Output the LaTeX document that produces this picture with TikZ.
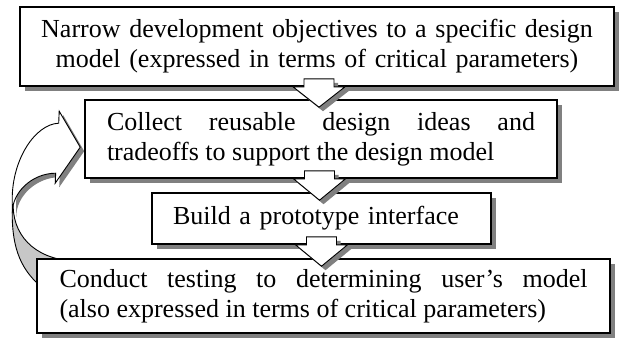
\documentclass[tikz,border=0pt]{standalone}
\usepackage{fontspec}
\setmainfont{Liberation Serif}
\usetikzlibrary{positioning,calc,shadows,backgrounds}
\definecolor{shade}{gray}{0.5}
\definecolor{backface}{gray}{0.78}

\begin{document}
\begin{tikzpicture}[x=1pt,y=-1pt,
    box/.style={draw, line width=1.6pt, fill=white, inner xsep=0pt, inner ysep=4pt,
      font=\fontsize{26}{30}\selectfont,
      drop shadow={shadow xshift=5pt, shadow yshift=-5pt, fill=shade, opacity=1}},
    blockarrow/.style={draw, line width=0.9pt, fill=white, line join=miter,
      drop shadow={shadow xshift=4pt, shadow yshift=-4pt, fill=shade, opacity=1}},
    curvedarrow/.style={draw, line width=0.9pt, fill=white, line join=miter,
      drop shadow={shadow xshift=4pt, shadow yshift=-4pt, fill=shade, opacity=1}},
    backside/.style={draw, line width=0.9pt, fill=backface}]
  \useasboundingbox (0,0) rectangle (620,337);

  \node (narrow) [box, text width=588pt, minimum width=594pt, minimum height=79pt,
    align=center] at (317,46.5)
    {Narrow development objectives to a specific design\\
     model (expressed in terms of critical parameters)};
  \node (collect) [box, text width=428pt, minimum width=472pt, minimum height=78pt,
    align=justify, below=12.4pt of narrow, xshift=4pt]
    {Collect reusable design ideas and\linebreak tradeoffs to support the design model};
  \node (build) [box, text width=297pt, minimum width=339pt, minimum height=51pt,
    align=left, below=13.4pt of collect, xshift=0.5pt]
    {Build a prototype interface};
  \node (test) [box, text width=528pt, minimum width=573pt, minimum height=74pt,
    align=justify, below=13.4pt of build, xshift=2pt]
    {Conduct testing to determining user's model\linebreak
     (also expressed in terms of critical parameters)};

  % fat arrows from each box down to the next one
  \foreach \a/\b in {narrow/collect, collect/build, build/test}
    \draw[blockarrow] let \p1=(\a.south), \p2=(\b.north) in
      (\x2-17pt,\y1+8pt) -- (\x2+13pt,\y1+8pt) -- (\x2+13pt,\y1) -- (\x2+24pt,\y1)
      -- (\x2-2pt,\y2-8pt) -- (\x2-28pt,\y1) -- (\x2-17pt,\y1) -- cycle;

  % loop back from testing to the design ideas
  \begin{scope}[on background layer, shift={(test.north west)}]
    \draw[backside] (-24,-45) .. controls (-24,-9) and (-15,13) .. (8,31)
      -- (43,31) -- (43,3) .. controls (3,3) and (-22,-19) .. (-23,-51) -- cycle;
    \draw[curvedarrow] (-24,-59) .. controls (-24,-99) and (-1,-134) .. (22.5,-135)
      -- (23,-147) -- (44,-111) -- (19,-75) -- (19.5,-85)
      .. controls (-3,-85) and (-24,-67) .. (-24,-45) -- cycle;
  \end{scope}
\end{tikzpicture}
\end{document}
